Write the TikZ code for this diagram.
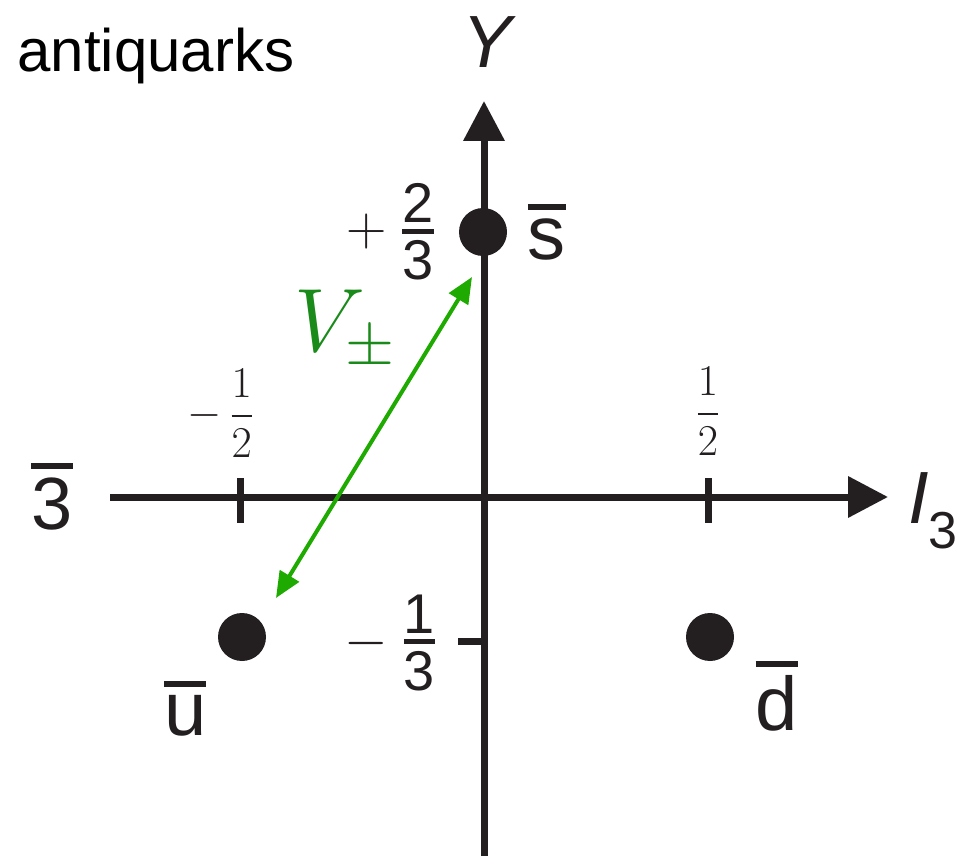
\RequirePackage{fix-cm}
\documentclass[tikz,border=0pt]{standalone}
\usepackage{amsmath}
\usepackage[no-math]{fontspec}
\newfontfamily\helv{Liberation Sans}
\usepackage{tikz}
\usetikzlibrary{arrows.meta, positioning}

\definecolor{ink}{HTML}{231F20}
\definecolor{vgreen}{HTML}{1EAA00}
\definecolor{vlabel}{HTML}{1A8A1A}
\newcommand{\antibar}[1]{\vbox{\hrule height 3pt\kern 4.5pt\hbox{#1}}}
\newcommand{\sfr}[2]{\vcenter{\offinterlineskip\halign{\hfil##\hfil\cr #1\cr\noalign{\kern 3pt\hrule height 2.5pt\kern 3.5pt}#2\cr}}}

\begin{document}
\begin{tikzpicture}[
    x=0.5pt, y=-0.5pt,
    axis/.style={draw=ink, line width=3.5pt, -{Triangle[length=20pt,width=20pt]}},
    tick/.style={draw=ink, line width=3.5pt},
    quark/.style={circle, fill=ink, minimum size=24pt, inner sep=0pt},
    flavour/.style={font=\helv\fontsize{38}{40}\selectfont, text=ink, inner sep=0pt},
    frac/.style={font=\fontsize{22}{24}\selectfont, text=ink, inner sep=0pt},
    sfrac/.style={font=\helv\fontsize{28}{32}\selectfont, text=ink, inner sep=0pt},
    ladder/.style={draw=vgreen, line width=2pt, {Triangle[length=13pt,width=11pt]}-{Triangle[length=13pt,width=11pt]}}
]
    \useasboundingbox (0,0) rectangle (960,856);

    % axes
    \coordinate (xl) at (110,497);
    \coordinate (xr) at (888,497);
    \coordinate (yb) at (484,856);
    \coordinate (yt) at (484,101);
    \draw[axis] (xl) -- (xr);
    \draw[axis] (yb) -- (yt);

    % ticks
    \draw[tick] (240,478) -- (240,523);
    \draw[tick] (708,478) -- (708,523);
    \draw[tick] (458,641) -- (484,641);

    % antiquark triplet
    \node[quark] (s) at (483,232) {};
    \node[quark] (u) at (242,637) {};
    \node[quark] (d) at (710,637) {};
    \node[flavour, right=10pt of s] (sbar) {\antibar{s}};
    \node[flavour, below left=13pt and 9pt of u] (ubar) {\antibar{u}};
    \node[flavour, below right=3pt and 14pt of d] (dbar) {\antibar{d}};

    % labels
    \node[font=\helv\fontsize{30}{32}\selectfont, text=black, anchor=base west, inner sep=0pt] (title) at (17,72) {antiquarks};
    \node[font=\helv\itshape\fontsize{37}{40}\selectfont, text=ink] (ylab) at (487,42) {Y};
    \node[font=\helv\itshape\fontsize{37}{40}\selectfont, text=ink, anchor=base west, inner sep=0pt] (ilab) at (908,523) {I\raisebox{-13pt}{\upshape\fontsize{26}{28}\selectfont 3}};
    \node[flavour, font=\helv\fontsize{37}{40}\selectfont] (rep) at (52,497) {\antibar{3}};

    \node[frac] (mhalf) at (221,413) {$\displaystyle -\,\frac{1}{2}$};
    \node[frac] (phalf) at (708,411) {$\displaystyle \frac{1}{2}$};
    \node[sfrac] (ptwo) at (390,232) {$+\;\sfr{2}{3}$};
    \node[sfrac] (mthird) at (390,643) {$-\;\sfr{1}{3}$};

    % V-spin ladder
    \coordinate (vlo) at (276,598);
    \coordinate (vhi) at (472,277);
    \draw[ladder] (vlo) -- (vhi);
    \node[text=vlabel, font=\fontsize{45}{48}\selectfont] (vlab) at (345,330) {$V_\pm$};
\end{tikzpicture}
\end{document}
